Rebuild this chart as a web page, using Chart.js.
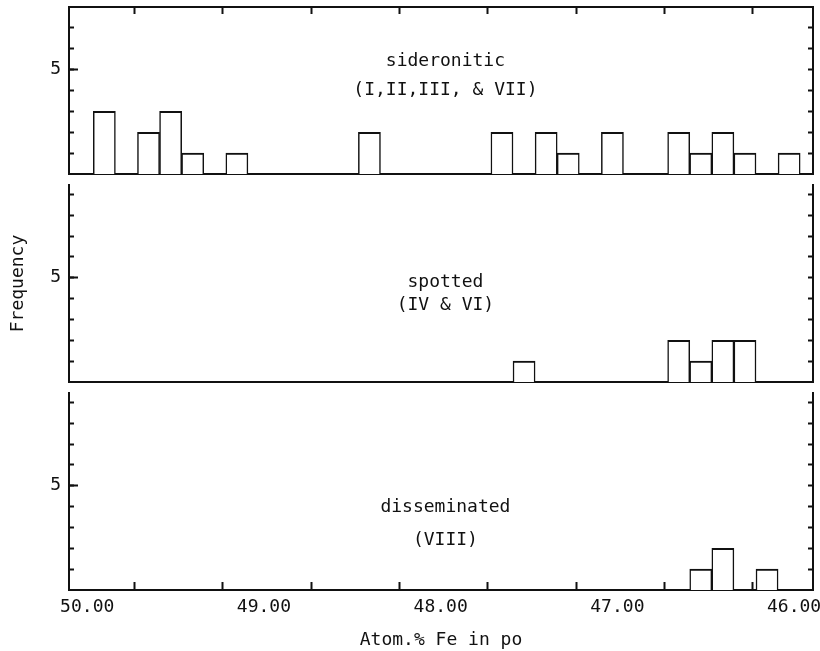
<!DOCTYPE html>
<html>
<head>
<meta charset="utf-8">
<script src="https://cdn.jsdelivr.net/npm/chart.js@4.4.0/dist/chart.umd.min.js"></script>
<style>
  html, body { margin: 0; padding: 0; background: #fff; }
  #wrap { position: relative; width: 820px; height: 651px; overflow: hidden; }
  canvas { position: absolute; left: 0; }
</style>
</head>
<body>
<div id="wrap">
  <canvas id="panelSid" width="820" height="180" style="top:0px"></canvas>
  <canvas id="panelSpot" width="820" height="208" style="top:180px"></canvas>
  <canvas id="panelDiss" width="820" height="263" style="top:388px"></canvas>
</div>
<script>
// bin centres (atom.% Fe in po) and frequencies, one pair per ore type
const sidBins = [49.92, 49.67, 49.545, 49.42, 49.17, 48.42, 47.67, 47.42, 47.295, 47.045, 46.67, 46.545, 46.42, 46.295, 46.045];
const sidCounts = [3, 2, 3, 1, 1, 2, 2, 2, 1, 2, 2, 1, 2, 1, 1];
const spotBins = [47.545, 46.67, 46.545, 46.42, 46.295];
const spotCounts = [1, 2, 1, 2, 2];
const dissBins = [46.545, 46.42, 46.17];
const dissCounts = [1, 2, 1];

// axis labels
const xTickValues = [50, 49, 48, 47, 46];
const xTickLabels = ['50.00', '49.00', '48.00', '47.00', '46.00'];
const yMarkValues = [5];
const yTickLabels = ['5'];

const FONT = "'DejaVu Sans Mono', monospace";
const INK = '#111';
const X_MIN = 45.91, X_MAX = 50.12;

// force an axis box size and drop the label overhang padding chart.js adds
function fixSize(prop, size) {
  return s => {
    s[prop] = size;
    s.paddingTop = s.paddingBottom = s.paddingLeft = s.paddingRight = 0;
  };
}

// panel captions drawn in the middle of each plot
const panelCaption = {
  id: 'panelCaption',
  afterDatasetsDraw(chart, args, opts) {
    const ctx = chart.ctx;
    const x = chart.scales.x.getPixelForValue(opts.at);
    ctx.save();
    ctx.font = '18px ' + FONT;
    ctx.fillStyle = INK;
    ctx.textAlign = 'center';
    ctx.textBaseline = 'alphabetic';
    opts.lines.forEach((line, i) => ctx.fillText(line, x, opts.baselines[i]));
    ctx.restore();
  }
};

function makePanel(id, bins, counts, p) {
  const scales = {
    x: {
      type: 'linear', position: 'bottom', reverse: true, min: X_MIN, max: X_MAX, offset: false,
      afterFit: fixSize('height', p.xHeight),
      border: { display: true, color: INK, width: 2 },
      grid: { drawOnChartArea: false, drawTicks: p.xLabels, tickLength: -8, tickWidth: 2, tickColor: INK },
      ticks: {
        display: p.xLabels, stepSize: 0.5, includeBounds: false, autoSkip: false, maxRotation: 0,
        padding: 15, labelOffset: -3, color: INK, font: { family: FONT, size: 18 },
        callback: v => { const i = xTickValues.indexOf(v); return i >= 0 ? xTickLabels[i] : ''; }
      },
      title: {
        display: p.xLabels, text: 'Atom.% Fe in po', color: INK,
        font: { family: FONT, size: 18 }, padding: { top: 0, bottom: 0 }
      }
    },
    y: {
      type: 'linear', position: 'left', weight: 1, min: 0, max: p.yMax,
      afterFit: fixSize('width', 69),
      afterBuildTicks: s => { s.ticks = s.ticks.filter(t => t.value >= 1 && t.value <= p.yTop); },
      border: { display: true, color: INK, width: 2 },
      grid: { drawOnChartArea: false, tickLength: -5, tickWidth: 2, tickColor: INK },
      ticks: {
        stepSize: 1, includeBounds: false, autoSkip: false, padding: 13,
        color: INK, font: { family: FONT, size: 18 },
        callback: v => { const i = yMarkValues.indexOf(v); return i >= 0 ? yTickLabels[i] : ''; }
      },
      title: {
        display: p.yTitle, text: 'Frequency', color: INK,
        font: { family: FONT, size: 18 }, padding: { top: 8, bottom: 0 }
      }
    },
    // longer tick mark at 5
    yMark: {
      type: 'linear', position: 'left', weight: 0, min: 0, max: p.yMax,
      afterFit: fixSize('width', 0),
      afterBuildTicks: s => { s.ticks = yMarkValues.map(v => ({ value: v })); },
      border: { display: false },
      grid: { drawOnChartArea: false, tickLength: -9, tickWidth: 2, tickColor: INK },
      ticks: { display: false }
    },
    yRight: {
      type: 'linear', position: 'right', min: 0, max: p.yMax,
      afterFit: fixSize('width', 7),
      afterBuildTicks: s => { s.ticks = s.ticks.filter(t => t.value >= 1 && t.value <= p.yTop); },
      border: { display: true, color: INK, width: 2 },
      grid: { drawOnChartArea: false, tickLength: -5, tickWidth: 2, tickColor: INK },
      ticks: { display: false, stepSize: 1, includeBounds: false }
    }
  };
  if (p.topAxis) {
    scales.xTop = {
      type: 'linear', position: 'top', reverse: true, min: X_MIN, max: X_MAX, offset: false,
      afterFit: fixSize('height', 7),
      border: { display: true, color: INK, width: 2 },
      grid: { drawOnChartArea: false, tickLength: -7, tickWidth: 2, tickColor: INK },
      ticks: { display: false, stepSize: 0.5, includeBounds: false }
    };
  }

  return new Chart(document.getElementById(id), {
    type: 'bar',
    data: {
      datasets: [{
        data: bins.map((b, i) => ({ x: b, y: counts[i] })),
        backgroundColor: '#fff',
        borderColor: INK,
        borderWidth: { top: 2, left: 1.5, right: 1.5, bottom: 0 },
        borderSkipped: 'start',
        barPercentage: 1,
        categoryPercentage: 1
      }]
    },
    options: {
      responsive: false,
      animation: false,
      devicePixelRatio: 1,
      layout: { padding: { top: p.padTop, left: 0, right: 0, bottom: 0 } },
      plugins: {
        legend: { display: false },
        tooltip: { enabled: false },
        panelCaption: { at: 47.99, lines: p.caption, baselines: p.captionY }
      },
      scales: scales
    },
    plugins: [panelCaption]
  });
}

makePanel('panelSid', sidBins, sidCounts, {
  yMax: 8, yTop: 7, padTop: 0, xHeight: 6, topAxis: true, xLabels: false, yTitle: false,
  caption: ['sideronitic', '(I,II,III, & VII)'], captionY: [66, 95]
});
makePanel('panelSpot', spotBins, spotCounts, {
  yMax: 9.45, yTop: 9, padTop: 5, xHeight: 6, topAxis: false, xLabels: false, yTitle: true,
  caption: ['spotted', '(IV & VI)'], captionY: [107, 130]
});
makePanel('panelDiss', dissBins, dissCounts, {
  yMax: 9.45, yTop: 9, padTop: 5, xHeight: 61, topAxis: false, xLabels: true, yTitle: false,
  caption: ['disseminated', '(VIII)'], captionY: [124, 157]
});
</script>
</body>
</html>
